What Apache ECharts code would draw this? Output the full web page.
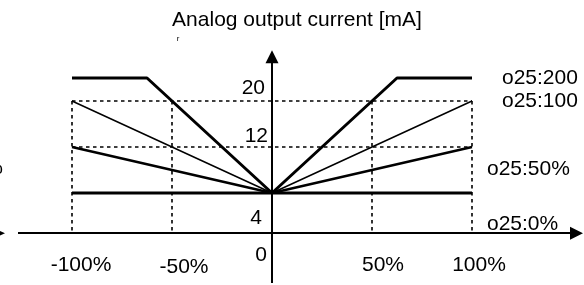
<!DOCTYPE html>
<html>
<head>
<meta charset="utf-8">
<script src="https://cdn.jsdelivr.net/npm/echarts@6/dist/echarts.min.js"></script>
<style>
  html, body { margin: 0; padding: 0; background: #fff; }
  #chart { width: 584px; height: 285px; }
</style>
</head>
<body>
<div id="chart"></div>
<script>
// values
const xTicks = [-100, -50, 50, 100];
const xTickLabels = ['-100%', '-50%', '50%', '100%'];
const yTicks = [20, 12, 4, 0];
const yTickLabels = ['20', '12', '4', '0'];
const curveNames = ['o25:200', 'o25:100', 'o25:50%', 'o25:0%'];
const curveX = [
    [-100, -62.5, 0, 62.5, 100],
    [-100, 0, 100],
    [-100, 0, 100],
    [-100, 0, 100]
];
const curveY = [
    [24, 24, 4, 24, 24],
    [20, 4, 20],
    [12, 4, 12],
    [4, 4, 4]
];
const guideLevels = [20, 12];
const guideX = [-100, -50, 50, 100];

// layout
const FONT = '"Liberation Sans", Arial, sans-serif';
const FS = 21;
const AXIS_Y = -3;          // the horizontal axis sits a bit below 0 in this sketch
const curveWidths = [3, 1.5, 2.5, 3];
const xLabelOff = [[9, 32], [12, 34], [11, 32], [7, 32]];
const yLabelOff = [[-7, -12.5], [-4, -10.5], [-10, 25], [-5, 39]];
const curveLabelOff = [[30, 0], [30, 0], [15, 22.5], [15, 31.5]];

const chart = echarts.init(document.getElementById('chart'));

const series = [];

// dotted guides
guideLevels.forEach(function (lv) {
    series.push({
        type: 'line', symbol: 'none', silent: true, animation: false,
        data: [[guideX[0], lv], [guideX[guideX.length - 1], lv]],
        lineStyle: { color: '#000', width: 1.6, type: [3.5, 3.5] }
    });
});
guideX.forEach(function (x) {
    series.push({
        type: 'line', symbol: 'none', silent: true, animation: false,
        data: [[x, guideLevels[0]], [x, AXIS_Y]],
        lineStyle: { color: '#000', width: 1.6, type: [3.5, 3.5] }
    });
});

// characteristic curves
curveNames.forEach(function (name, i) {
    series.push({
        name: name, type: 'line', symbol: 'none', silent: true, animation: false,
        data: curveX[i].map(function (x, j) { return [x, curveY[i][j]]; }),
        lineStyle: { color: '#000', width: curveWidths[i] }
    });
});

// axes with arrow heads
series.push({
    type: 'line', data: [], silent: true, animation: false,
    markLine: {
        silent: true, animation: false,
        symbol: ['none', 'triangle'], symbolSize: 13,
        label: { show: false },
        lineStyle: { color: '#000', width: 2, type: 'solid' },
        emphasis: { disabled: true },
        data: [
            [{ coord: [-127, AXIS_Y] }, { coord: [152.25, AXIS_Y] }],
            [{ coord: [0, -11.65] }, { coord: [0, 27.7] }]
        ]
    }
});

chart.setOption({
    animation: false,
    grid: { left: 0, right: 0, top: 0, bottom: 0 },
    xAxis: { type: 'value', min: -136, max: 156, show: false },
    yAxis: { type: 'value', min: -12, max: 37.565, show: false },
    series: series
});

function px(x, y) {
    return chart.convertToPixel({ gridIndex: 0 }, [x, y]);
}

function text(x, y, str, align, size) {
    return {
        type: 'text', x: x, y: y, silent: true,
        style: {
            text: str, fill: '#000', fontSize: size || FS, fontFamily: FONT,
            align: align, verticalAlign: 'middle'
        }
    };
}

const graphics = [];
graphics.push(text(297, 20, 'Analog output current [mA]', 'center'));
graphics.push(text(178, 39, 'r', 'center', 8));

xTicks.forEach(function (t, i) {
    const p = px(t, AXIS_Y);
    graphics.push(text(p[0] + xLabelOff[i][0], p[1] + xLabelOff[i][1], xTickLabels[i], 'center'));
});
yTicks.forEach(function (t, i) {
    const p = px(0, t);
    graphics.push(text(p[0] + yLabelOff[i][0], p[1] + yLabelOff[i][1], yTickLabels[i], 'right'));
});
curveNames.forEach(function (name, i) {
    const n = curveX[i].length - 1;
    const p = px(curveX[i][n], curveY[i][n]);
    graphics.push(text(p[0] + curveLabelOff[i][0], p[1] + curveLabelOff[i][1], name, 'left'));
});

// cut-off pieces at the left edge
const ax = px(-136, AXIS_Y);
graphics.push({
    type: 'polygon', silent: true,
    shape: { points: [[ax[0] + 5, ax[1]], [ax[0] - 8, ax[1] - 6], [ax[0] - 8, ax[1] + 6]] },
    style: { fill: '#000' }
});
graphics.push(text(3, 168, '%', 'right'));

chart.setOption({ graphic: graphics });
</script>
</body>
</html>
